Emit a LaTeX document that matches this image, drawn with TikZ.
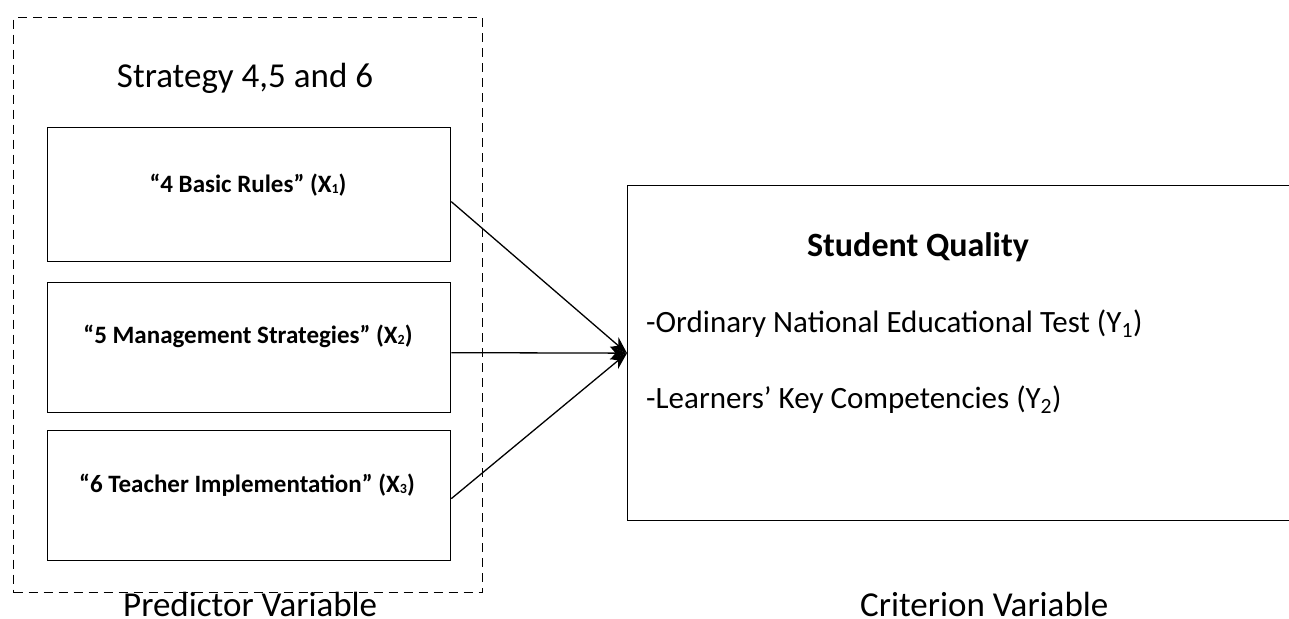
\documentclass[tikz,border=0pt]{standalone}
\usepackage{fontspec}
\setmainfont{Carlito}
\usetikzlibrary{arrows.meta}
\newcommand{\smallsub}[1]{\raisebox{-0.15ex}{\fontsize{14}{16}\selectfont #1}}
\tikzset{
  pbox/.style={draw, line width=1.3pt, minimum width=403pt, inner sep=0pt, anchor=north west},
  blabel/.style={font=\fontsize{25}{30}\selectfont\bfseries, inner sep=0pt, anchor=base},
  biglabel/.style={font=\fontsize{35}{40}\selectfont, inner sep=0pt},
  ylabel/.style={font=\fontsize{31}{36}\selectfont, inner sep=0pt, anchor=base west},
  conn/.style={line width=1.3pt, -{Stealth[length=17pt,width=13pt]}},
  group/.style={draw, line width=1.1pt, dash pattern=on 9pt off 6pt}
}
\begin{document}
\begin{tikzpicture}[x=1pt,y=-1pt]
\useasboundingbox (0,0) rectangle (1289,618);
% dashed group
\node[group, minimum width=469pt, minimum height=575pt, inner sep=0pt, anchor=north west] (grp) at (13,17) {};
\node[biglabel, anchor=base] (title) at (245,87) {Strategy 4,5 and 6};
% predictor boxes
\node[pbox, minimum height=134pt] (b1) at (47,127) {};
\node[pbox, minimum height=130pt] (b2) at (47,282) {};
\node[pbox, minimum height=130pt] (b3) at (47,430) {};
\node[blabel] (l1) at (248,192) {“4 Basic Rules” (X\smallsub{1})};
\node[blabel] (l2) at (248,343) {“5 Management Strategies” (X\smallsub{2})};
\node[blabel] (l3) at (247,492) {“6 Teacher Implementation” (X\smallsub{3})};
% criterion box (right edge runs off the page)
\node[draw, line width=1.3pt, minimum width=690pt, minimum height=335pt, inner sep=0pt, anchor=north west] (sq) at (627,185) {};
\node[font=\fontsize{34}{40}\selectfont\bfseries, inner sep=0pt, anchor=base] (sqt) at (918,256) {Student Quality};
\node[ylabel] (y1) at (646,332) {-Ordinary National Educational Test (Y\textsubscript{1})};
\node[ylabel] (y2) at (646,408) {-Learners’ Key Competencies (Y\textsubscript{2})};
% connectors
\draw[conn] ([yshift=-7pt]b1.east) -- (sq.west);
\draw[conn] ([yshift=-5pt]b2.east) -- (sq.west);
\draw[conn] ([yshift=-3pt]b3.east) -- (sq.west);
% captions
\node[biglabel, anchor=base west] (pv) at (123,616) {Predictor Variable};
\node[biglabel, anchor=base west] (cv) at (860,616) {Criterion Variable};
\end{tikzpicture}
\end{document}
